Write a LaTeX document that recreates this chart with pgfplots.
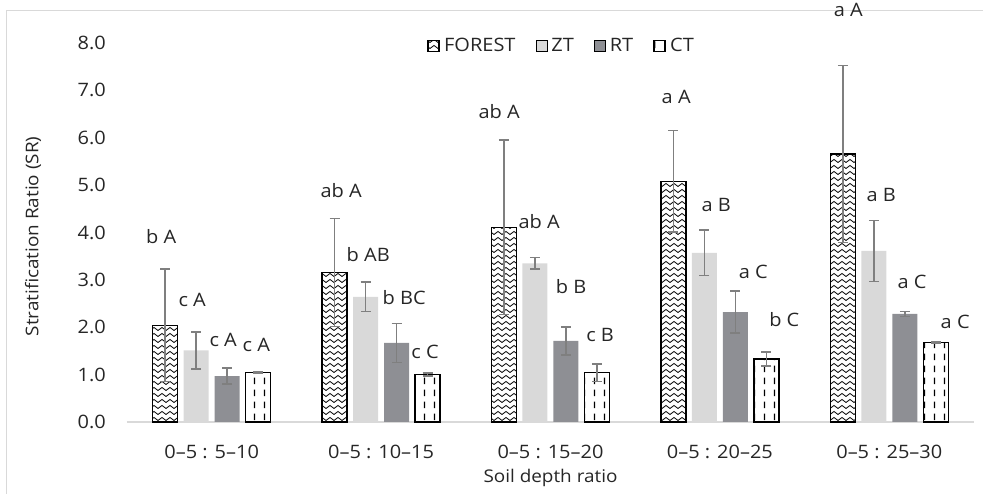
\documentclass[border=0pt]{standalone}
\usepackage{pgfplots}
\pgfplotsset{compat=1.18}
\usepackage{pgfplotstable}
\usepackage{fontspec}
\setmainfont{Open Sans}[FakeStretch=1.08]
\usetikzlibrary{patterns}

\definecolor{ztcol}{HTML}{D9D9D9}
\definecolor{rtcol}{HTML}{8E8F94}
\definecolor{errcol}{HTML}{7F7F7F}
\definecolor{framecol}{HTML}{D9D9D9}
\definecolor{txtcol}{HTML}{262626}

\pgfdeclarepatternformonly{waves}{\pgfqpoint{-1pt}{-1pt}}{\pgfqpoint{9pt}{7pt}}{\pgfqpoint{8pt}{6pt}}{%
  \pgfsetlinewidth{0.8pt}%
  \pgfpathmoveto{\pgfqpoint{0pt}{3pt}}%
  \pgfpathcurveto{\pgfqpoint{1.3pt}{5pt}}{\pgfqpoint{2.7pt}{5pt}}{\pgfqpoint{4pt}{3pt}}%
  \pgfpathcurveto{\pgfqpoint{5.3pt}{1pt}}{\pgfqpoint{6.7pt}{1pt}}{\pgfqpoint{8pt}{3pt}}%
  \pgfusepath{stroke}%
}
\pgfdeclarepatternformonly{vdashes}{\pgfqpoint{0pt}{0pt}}{\pgfqpoint{10pt}{12pt}}{\pgfqpoint{10pt}{12pt}}{%
  \pgfsetlinewidth{1.4pt}%
  \pgfpathmoveto{\pgfqpoint{5pt}{2pt}}%
  \pgfpathlineto{\pgfqpoint{5pt}{9pt}}%
  \pgfusepath{stroke}%
}

\pgfplotstableread{
x forest forestE zt ztE rt rtE ct ctE
0 2.04 1.19 1.51 0.39 0.97 0.17 1.05 0.02
1 3.16 1.14 2.64 0.31 1.67 0.41 1.00 0.03
2 4.11 1.84 3.35 0.12 1.71 0.30 1.04 0.18
3 5.08 1.07 3.57 0.48 2.32 0.44 1.33 0.15
4 5.66 1.87 3.61 0.64 2.28 0.05 1.68 0.01
}\data

\newcommand{\tickfont}{\fontsize{18.5}{20}\selectfont}
\newcommand{\labfont}{\fontsize{18.5}{20}\selectfont}
\newcommand{\titlefont}{\fontsize{17.5}{19}\selectfont}

\begin{document}
\begin{tikzpicture}
\useasboundingbox (-127pt,-72pt) rectangle (856pt,422pt);
\draw[framecol, line width=1pt] (-120pt,-72pt) -- (-120pt,411pt) -- (856pt,411pt);
\begin{axis}[
  scale only axis, width=847pt, height=379pt,
  at={(0,0)}, anchor=south west,
  ybar=6pt, bar width=25pt,
  xmin=-0.5, xmax=4.5, ymin=0, ymax=8,
  clip=false,
  axis x line=bottom, axis y line=left,
  axis line style={-},
  x axis line style={draw=framecol, line width=1.2pt},
  y axis line style={draw=none},
  major tick length=0pt,
  xtick={0,1,2,3,4},
  xticklabels={0--5 : 5--10, 0--5 : 10--15, 0--5 : 15--20, 0--5 : 20--25, 0--5 : 25--30},
  ytick={0,1,...,8},
  tick label style={font=\tickfont, text=txtcol},
  yticklabel style={anchor=east, inner sep=0pt, xshift=-21pt,
    /pgf/number format/.cd, fixed, fixed zerofill, precision=1, assume math mode=true},
  xticklabel style={anchor=center, inner sep=0pt, yshift=-30pt},
  ylabel={Stratification Ratio (SR)},
  xlabel={Soil depth ratio},
  ylabel style={font=\titlefont, text=txtcol, at={(axis description cs:-0.111,0.49)}, anchor=center, inner sep=0pt},
  xlabel style={font=\titlefont, text=txtcol, at={(axis description cs:0.5,-0.148)}, anchor=center, inner sep=0pt},
  legend columns=4,
  legend style={draw=none, fill=none, font=\labfont, text=txtcol,
    at={(rel axis cs:0.513,0.992)}, anchor=center,
    /tikz/every odd column/.append style={column sep=2.5pt},
    /tikz/every even column/.append style={column sep=18pt}},
  legend image code/.code={\draw[#1] (0pt,-5.5pt) rectangle (11pt,5.5pt);},
  error bars/y dir=both, error bars/y explicit,
  error bars/error bar style={errcol, line width=1.5pt, solid},
  error bars/error mark options={errcol, line width=1.5pt, mark size=5pt, rotate=90},
]
\addplot[draw=black, line width=1.5pt, pattern=waves, pattern color=black]
  table[x=x, y=forest, y error=forestE] {\data};
\addlegendentry{FOREST}
\addplot[draw=none, fill=ztcol]
  table[x=x, y=zt, y error=ztE] {\data};
\addlegendentry{ZT}
\addplot[draw=none, fill=rtcol]
  table[x=x, y=rt, y error=rtE] {\data};
\addlegendentry{RT}
\addplot[draw=black, line width=1.5pt, pattern=vdashes, pattern color=black]
  table[x=x, y=ct, y error=ctE] {\data};
\addlegendentry{CT}

\begin{scope}[every node/.style={font=\labfont, text=txtcol}]
\node at (axis cs:-0.298,3.905) {b A};
\node at (axis cs:-0.115,2.575) {c A};
\node at (axis cs:0.068,1.731) {c A};
\node at (axis cs:0.263,1.625) {c A};
\node at (axis cs:0.764,4.876) {ab A};
\node at (axis cs:0.924,3.525) {b AB};
\node at (axis cs:1.136,2.617) {b BC};
\node at (axis cs:1.260,1.478) {c C};
\node at (axis cs:1.697,6.544) {ab A};
\node at (axis cs:1.933,4.222) {ab A};
\node at (axis cs:2.122,2.850) {b B};
\node at (axis cs:2.293,1.836) {c B};
\node at (axis cs:2.742,6.860) {a A};
\node at (axis cs:2.978,4.580) {a B};
\node at (axis cs:3.197,3.166) {a C};
\node at (axis cs:3.380,2.153) {b C};
\node at (axis cs:3.758,8.697) {a A};
\node at (axis cs:3.952,4.792) {a B};
\node at (axis cs:4.135,2.955) {a C};
\node at (axis cs:4.389,2.111) {a C};
\end{scope}
\end{axis}
\end{tikzpicture}
\end{document}
